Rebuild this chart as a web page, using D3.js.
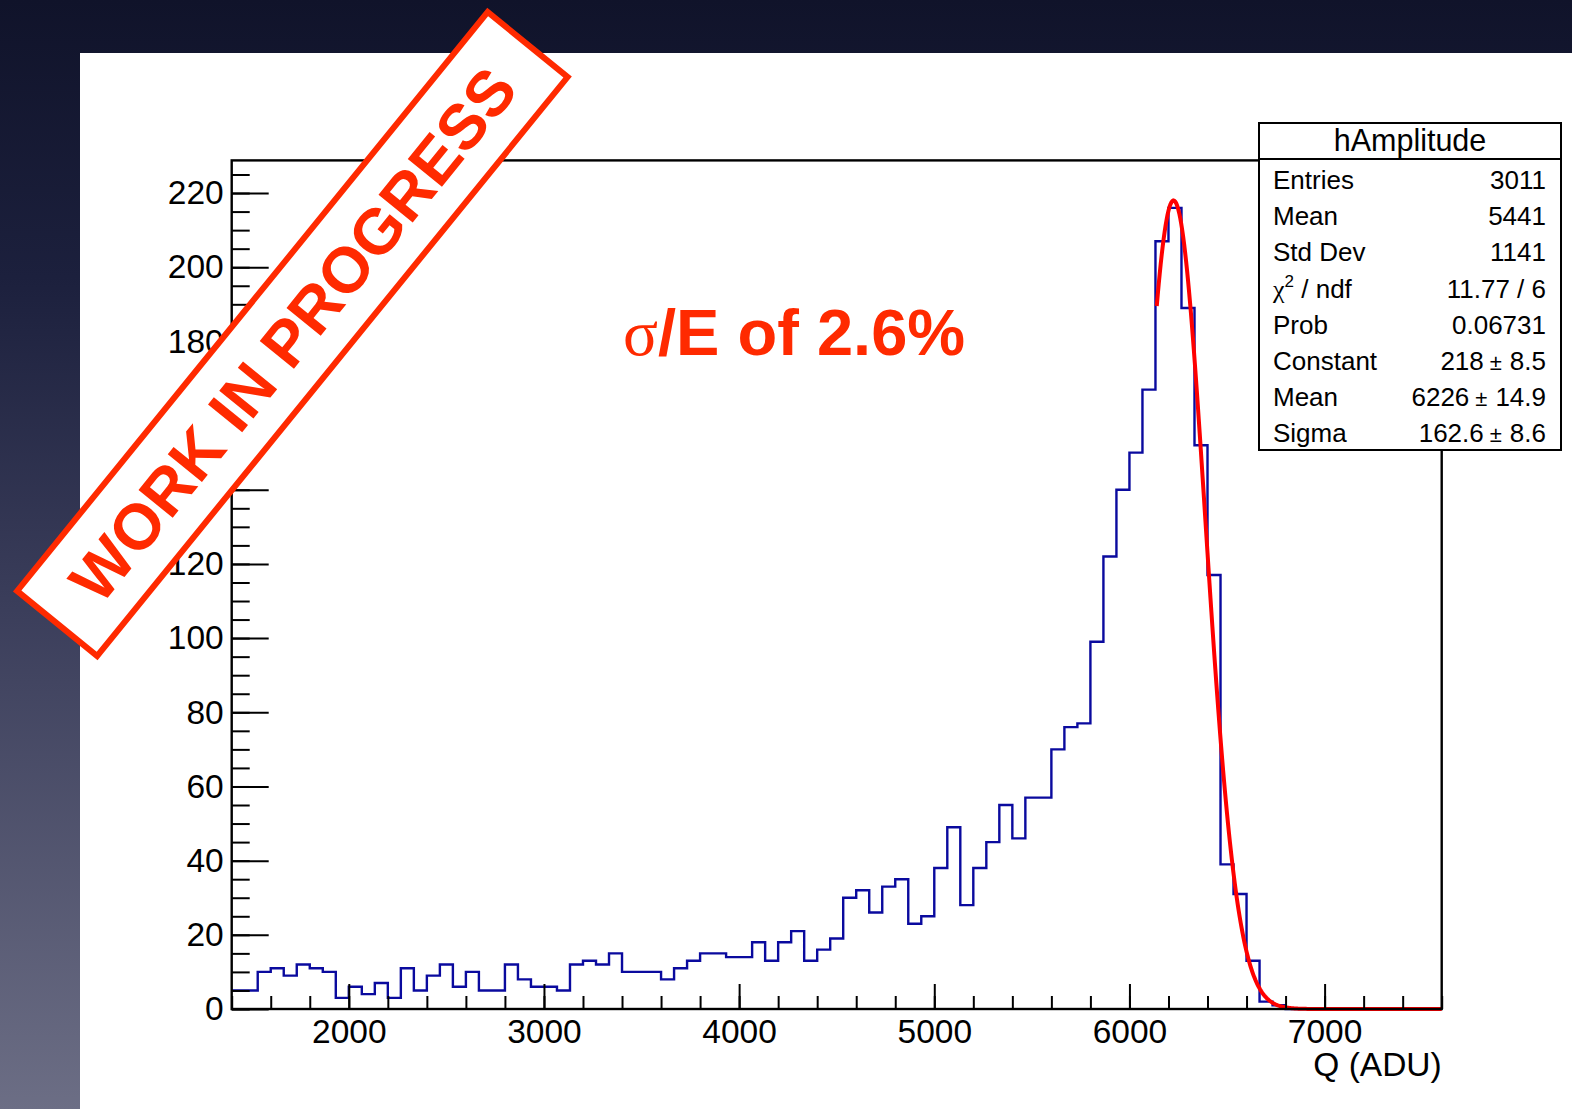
<!DOCTYPE html>
<html>
<head>
<meta charset="utf-8">
<script src="https://cdn.jsdelivr.net/npm/d3@7"></script>
<style>
  html, body { margin: 0; padding: 0; background: #0f1226; }
  svg { display: block; }
  text { font-family: "Liberation Sans", Arial, Helvetica, sans-serif; }
</style>
</head>
<body>
<svg id="chart" width="1572" height="1109"></svg>
<script>
// ---- histogram hAmplitude: Q (ADU), bins of 200/3 ADU starting at 1400 ----
const binStart = 1400;
const binWidth = 200 / 3;
const counts = [
  5, 5, 10, 11, 9, 12, 11, 10, 3, 6,
  4, 7, 3, 11, 5, 9, 12, 6, 10, 5,
  5, 12, 8, 6, 6, 5, 12, 13, 12, 15,
  10, 10, 10, 8, 11, 13, 15, 15, 14, 14,
  18, 13, 18, 21, 13, 16, 19, 30, 32, 26,
  33, 35, 23, 25, 38, 49, 28, 38, 45, 55,
  46, 57, 57, 70, 76, 77, 99, 122, 140, 150,
  167, 207, 216, 189, 152, 117, 39, 31, 13, 2,
  1, 0, 0, 0, 0, 0, 0, 0, 0, 0,
  0, 0, 0
];

// Gaussian fit parameters and fit range
const fitParams = { constant: 218, mean: 6226, sigma: 162.6 };
const fitRange = [6140, 7600];

// axis ranges and ticks
const xDomain = [1400, 7600];
const yDomain = [0, 228.8];
const xMajorTicks = [2000, 3000, 4000, 5000, 6000, 7000];
const xMinorTicks = d3.range(1400, 7601, 200);
const yMajorTicks = [0, 20, 40, 60, 80, 100, 120, 140, 160, 180, 200, 220];
const yMinorTicks = d3.range(0, 226, 5);

// statistics box
const statsTitle = "hAmplitude";
const statsLabels = ["Entries", "Mean", "Std Dev", "CHI", "Prob", "Constant", "Mean", "Sigma"];
const statsValues = ["3011", "5441", "1141", "11.77 / 6", "0.06731", ["218", "8.5"], ["6226", "14.9"], ["162.6", "8.6"]];

const RED = "#ff2a00";

const svg = d3.select("#chart");

// slide background
const defs = svg.append("defs");
const bg = defs.append("linearGradient").attr("id", "bg").attr("x1", 0).attr("y1", 0).attr("x2", 0).attr("y2", 1);
bg.append("stop").attr("offset", "0%").attr("stop-color", "#10132a");
bg.append("stop").attr("offset", "25%").attr("stop-color", "#1c203d");
bg.append("stop").attr("offset", "55%").attr("stop-color", "#3b3e5b");
bg.append("stop").attr("offset", "100%").attr("stop-color", "#6c6e85");
svg.append("rect").attr("width", 1572).attr("height", 1109).attr("fill", "url(#bg)");

// white canvas
svg.append("rect").attr("x", 80).attr("y", 53).attr("width", 1492).attr("height", 1056).attr("fill", "#ffffff");

// plot frame geometry
const L = 231.7, R = 1441.7, T = 160.4, B = 1009;
const x = d3.scaleLinear().domain(xDomain).range([L, R]);
const y = d3.scaleLinear().domain(yDomain).range([B, T]);

const g = svg.append("g");

// histogram outline (step line)
const pts = [];
counts.forEach((c, i) => {
  const x0 = binStart + i * binWidth, x1 = x0 + binWidth;
  pts.push([x0, c], [x1, c]);
});
g.append("path")
  .attr("d", d3.line().x(d => x(d[0])).y(d => y(d[1]))(pts))
  .attr("fill", "none")
  .attr("stroke", "#0a0a9e")
  .attr("stroke-width", 2.4);

// gaussian fit curve
const gauss = v => fitParams.constant * Math.exp(-0.5 * Math.pow((v - fitParams.mean) / fitParams.sigma, 2));
const fitPts = d3.range(fitRange[0], fitRange[1] + 0.1, 5).map(v => [v, gauss(v)]);
g.append("path")
  .attr("d", d3.line().x(d => x(d[0])).y(d => y(d[1]))(fitPts))
  .attr("fill", "none")
  .attr("stroke", "#ff0000")
  .attr("stroke-width", 4);

// axes: ticks point into the frame
const axisStyle = sel => {
  sel.select(".domain").remove();
  sel.selectAll("line").attr("stroke", "#000").attr("stroke-width", 2);
  sel.selectAll("text").attr("fill", "#000").style("font-size", "33.5px")
    .style("font-family", "'Liberation Sans', Arial, Helvetica, sans-serif");
};

g.append("g").attr("transform", `translate(0,${B})`)
  .call(d3.axisBottom(x).tickValues(xMinorTicks).tickSize(-13).tickFormat(""))
  .call(axisStyle);
g.append("g").attr("transform", `translate(0,${B})`)
  .call(d3.axisBottom(x).tickValues(xMajorTicks).tickSize(-25).tickPadding(10).tickFormat(d3.format("d")))
  .call(axisStyle);

g.append("g").attr("transform", `translate(${L},0)`)
  .call(d3.axisLeft(y).tickValues(yMinorTicks).tickSize(-18).tickFormat(""))
  .call(axisStyle);
g.append("g").attr("transform", `translate(${L},0)`)
  .call(d3.axisLeft(y).tickValues(yMajorTicks).tickSize(-37).tickPadding(8).tickFormat(d3.format("d")))
  .call(axisStyle);

// frame
g.append("rect").attr("x", L).attr("y", T).attr("width", R - L).attr("height", B - T)
  .attr("fill", "none").attr("stroke", "#000").attr("stroke-width", 2.4);

// axis title
g.append("text").attr("x", R).attr("y", 1076).attr("text-anchor", "end")
  .style("font-size", "33.5px").attr("fill", "#000").text("Q (ADU)");

// resolution annotation
const ann = g.append("text").attr("x", 623).attr("y", 355).attr("fill", RED)
  .style("font-size", "65px").style("font-weight", "bold");
ann.append("tspan").style("font-family", "'Liberation Serif', 'Times New Roman', serif")
  .style("font-weight", "normal").text("σ");
ann.append("tspan").text("/E of 2.6%");

// statistics box
const sb = { x0: 1259, x1: 1561, y0: 123, y1: 450, ysep: 159 };
const st = svg.append("g");
st.append("rect").attr("x", sb.x0).attr("y", sb.y0).attr("width", sb.x1 - sb.x0).attr("height", sb.y1 - sb.y0)
  .attr("fill", "#fff").attr("stroke", "#000").attr("stroke-width", 2);
st.append("line").attr("x1", sb.x0).attr("x2", sb.x1).attr("y1", sb.ysep).attr("y2", sb.ysep)
  .attr("stroke", "#000").attr("stroke-width", 2);
st.append("text").attr("x", (sb.x0 + sb.x1) / 2).attr("y", 151).attr("text-anchor", "middle")
  .style("font-size", "30.5px").attr("fill", "#000").text(statsTitle);

statsLabels.forEach((lab, i) => {
  const yy = 189 + i * 36.2;
  const t = st.append("text").attr("x", 1273).attr("y", yy).style("font-size", "26px").attr("fill", "#000");
  if (lab === "CHI") {
    t.append("tspan").style("font-family", "'Liberation Serif', 'Times New Roman', serif").text("χ");
    t.append("tspan").attr("dy", -11).style("font-size", "17px").text("2");
    t.append("tspan").attr("dy", 11).text(" / ndf");
  } else {
    t.text(lab);
  }
  const v = statsValues[i];
  const tv = st.append("text").attr("x", 1546).attr("y", yy).attr("text-anchor", "end")
    .style("font-size", "26px").attr("fill", "#000");
  if (Array.isArray(v)) {
    tv.append("tspan").text(v[0]);
    tv.append("tspan").attr("dx", 6).style("font-size", "22px").text("±");
    tv.append("tspan").attr("dx", 8).text(v[1]);
  } else {
    tv.text(v);
  }
});

// "WORK IN PROGRESS" stamp
const stamp = svg.append("g").attr("transform", "translate(292.4,334) rotate(-50.9)");
stamp.append("rect").attr("x", -373).attr("y", -51.5).attr("width", 746).attr("height", 103)
  .attr("fill", "#ffffff").attr("stroke", RED).attr("stroke-width", 6);
stamp.append("text").attr("x", 0).attr("y", 0).attr("dy", "0.36em").attr("text-anchor", "middle")
  .attr("fill", RED).style("font-size", "64px").style("font-weight", "bold")
  .text("WORK IN PROGRESS");
</script>
</body>
</html>
